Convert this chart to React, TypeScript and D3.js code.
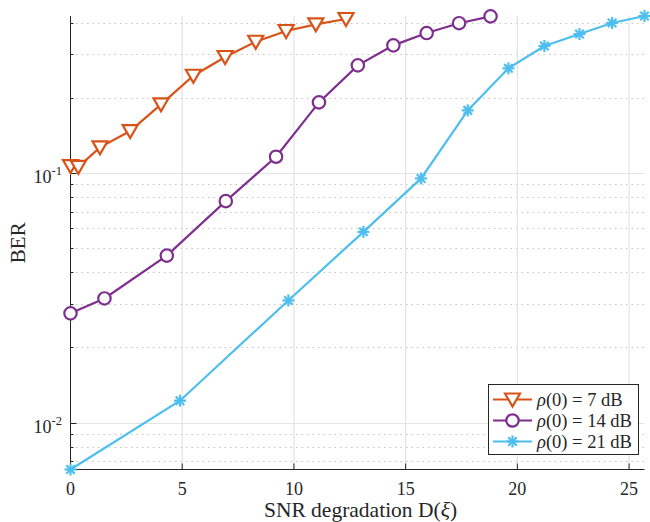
import React from "react";
import * as d3 from "d3";

const snr7 = [0, 0.35, 1.32, 2.67, 4.05, 5.5, 6.92, 8.29, 9.65, 10.98, 12.33];
const ber7 = [0.1067, 0.106, 0.1268, 0.1474, 0.1887, 0.2456, 0.292, 0.3362, 0.3712, 0.3949, 0.4147];
const snr14 = [0, 1.52, 4.31, 6.95, 9.2, 11.12, 12.86, 14.45, 15.94, 17.39, 18.8];
const ber14 = [0.02739, 0.03143, 0.04668, 0.07719, 0.1163, 0.1921, 0.2704, 0.3252, 0.3643, 0.399, 0.425];
const snr21 = [0, 4.9, 9.75, 13.11, 15.69, 17.78, 19.6, 21.21, 22.78, 24.24, 25.69];
const ber21 = [0.00648, 0.01223, 0.03086, 0.05813, 0.0952, 0.1784, 0.263, 0.3231, 0.3609, 0.3997, 0.4264];

const seriesNames = ["7 dB", "14 dB", "21 dB"];
const seriesColors = ["#D95319", "#7E2F8E", "#4DBEEE"];
const seriesMarkers = ["tri", "circle", "star"];

const xTicks = [0, 5, 10, 15, 20, 25];
const yMajor = [0.01, 0.1];
const yMajorExp = ["-2", "-1"];
const yMinor = [0.007, 0.008, 0.009, 0.02, 0.03, 0.04, 0.05, 0.06, 0.07, 0.08, 0.09, 0.2, 0.3, 0.4];

const W = 650, H = 522;
const L = 70.5, R = 644.5, T = 16, B = 469.5;
const FONT = "'Liberation Serif', 'Times New Roman', serif";
const AX = "#262626";

function Marker({ kind, x, y, color }: { kind: string; x: number; y: number; color: string }) {
  if (kind === "tri") {
    return <path d={`M${x - 7.5},${y - 6}L${x + 7.5},${y - 6}L${x},${y + 7}Z`} fill="white" stroke={color} strokeWidth={2.2} strokeLinejoin="miter" />;
  }
  if (kind === "circle") {
    return <circle cx={x} cy={y} r={6.2} fill="white" stroke={color} strokeWidth={2.2} />;
  }
  const r = 6;
  const d = r * Math.SQRT1_2;
  return (
    <g stroke={color} strokeWidth={2.2} strokeLinecap="butt">
      <line x1={x - r} y1={y} x2={x + r} y2={y} />
      <line x1={x} y1={y - r} x2={x} y2={y + r} />
      <line x1={x - d} y1={y - d} x2={x + d} y2={y + d} />
      <line x1={x - d} y1={y + d} x2={x + d} y2={y - d} />
    </g>
  );
}

export default function App() {
  const allX = [...snr7, ...snr14, ...snr21];
  const allY = [...ber7, ...ber14, ...ber21];
  const x = d3.scaleLinear().domain([0, d3.max(allX) as number]).range([L, R]);
  const y = d3.scaleLog().domain([d3.min(allY) as number, d3.max(allY) as number]).range([B, T]);
  const series = [
    { xs: snr7, ys: ber7 },
    { xs: snr14, ys: ber14 },
    { xs: snr21, ys: ber21 },
  ];
  const line = d3.line<[number, number]>().x((d) => x(d[0])).y((d) => y(d[1]));

  const legX = 488, legY = 384, legW = 150, legH = 70;
  const rowY = [399.5, 420.5, 441.5];

  return (
    <svg width={W} height={H} style={{ position: "absolute", left: 0, top: 0, background: "white" }} fontFamily={FONT}>
      <rect x={0} y={0} width={W} height={H} fill="white" />
      {yMinor.map((v) => (
        <line key={"mg" + v} x1={L} x2={R} y1={Math.round(y(v)) + 0.5} y2={Math.round(y(v)) + 0.5} stroke="#c4c4c4" strokeWidth={1} strokeDasharray="1.5,4" />
      ))}
      {yMajor.map((v) => (
        <line key={"yg" + v} x1={L} x2={R} y1={Math.round(y(v)) + 0.5} y2={Math.round(y(v)) + 0.5} stroke="#e3e3e3" strokeWidth={1.2} />
      ))}
      {xTicks.filter((v) => v > 0).map((v) => (
        <line key={"xg" + v} x1={x(v)} x2={x(v)} y1={T} y2={B} stroke="#e3e3e3" strokeWidth={1.2} />
      ))}
      <line x1={L} x2={L} y1={T} y2={B} stroke={AX} strokeWidth={1} />
      <line x1={L} x2={R} y1={B} y2={B} stroke={AX} strokeWidth={1} />
      {xTicks.map((v) => (
        <g key={"xt" + v}>
          <line x1={x(v)} x2={x(v)} y1={B} y2={B - 6} stroke={AX} strokeWidth={1} />
          <text x={x(v)} y={495} textAnchor="middle" fontSize={18} fill={AX}>{v}</text>
        </g>
      ))}
      {yMajor.map((v, i) => (
        <g key={"yt" + v}>
          <line x1={L} x2={L + 6} y1={Math.round(y(v)) + 0.5} y2={Math.round(y(v)) + 0.5} stroke={AX} strokeWidth={1} />
          <text x={62} y={y(v) + 10} textAnchor="end" fontSize={18} fill={AX}>
            10<tspan dy={-8} fontSize={12.5}>{yMajorExp[i]}</tspan>
          </text>
        </g>
      ))}
      {yMinor.map((v) => (
        <line key={"ymt" + v} x1={L} x2={L + 3} y1={Math.round(y(v)) + 0.5} y2={Math.round(y(v)) + 0.5} stroke={AX} strokeWidth={1} />
      ))}
      <text x={(L + R) / 2 + 3} y={516.5} textAnchor="middle" fontSize={21.5} fill={AX}>
        SNR degradation D(<tspan fontStyle="italic">ξ</tspan>)
      </text>
      <text transform={`translate(25,${(T + B) / 2}) rotate(-90)`} textAnchor="middle" fontSize={21} fill={AX}>BER</text>
      {series.map((s, i) => {
        const pts = s.xs.map((xv, j) => [xv, s.ys[j]] as [number, number]);
        return (
          <g key={"s" + i}>
            <path d={line(pts) as string} fill="none" stroke={seriesColors[i]} strokeWidth={2.2} />
            {pts.map((p, j) => (
              <Marker key={j} kind={seriesMarkers[i]} x={x(p[0])} y={y(p[1])} color={seriesColors[i]} />
            ))}
          </g>
        );
      })}
      <rect x={legX + 0.5} y={legY + 0.5} width={legW} height={legH} fill="white" stroke={AX} strokeWidth={1} />
      {seriesNames.map((n, i) => (
        <g key={"lg" + i}>
          <line x1={493} x2={532} y1={rowY[i]} y2={rowY[i]} stroke={seriesColors[i]} strokeWidth={2.2} />
          <Marker kind={seriesMarkers[i]} x={512.5} y={rowY[i]} color={seriesColors[i]} />
          <text x={537} y={rowY[i] + 6} fontSize={18.5} fill={AX}>
            <tspan fontStyle="italic">ρ</tspan>(0) = {n}
          </text>
        </g>
      ))}
    </svg>
  );
}
